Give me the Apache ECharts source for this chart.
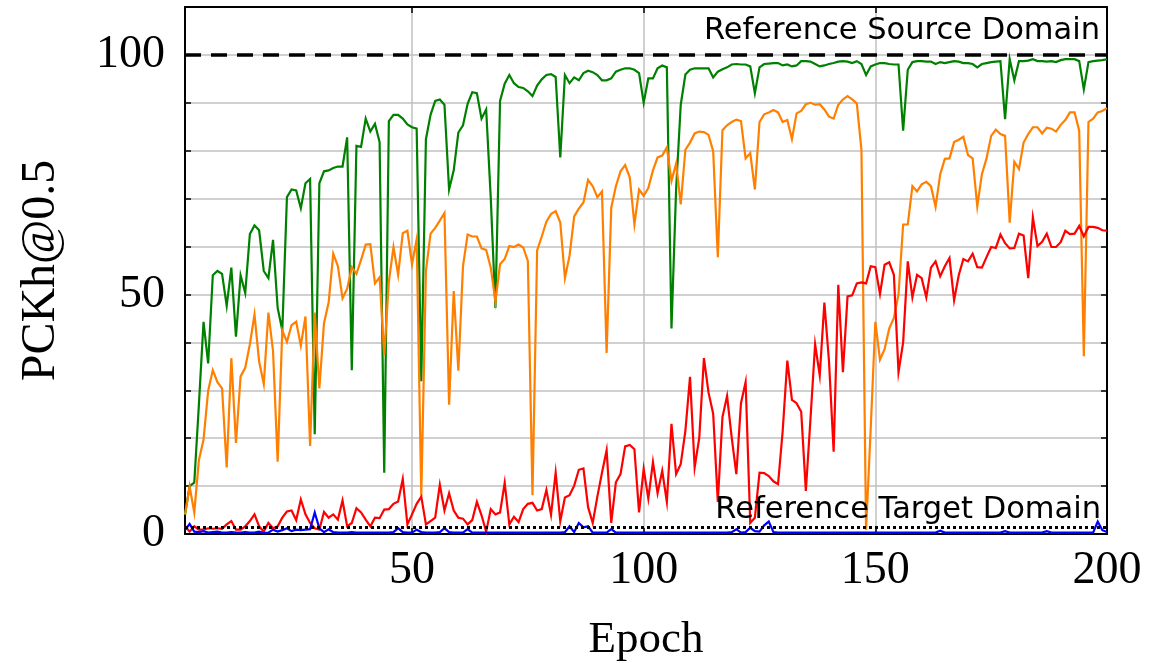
<!DOCTYPE html>
<html>
<head>
<meta charset="utf-8">
<script src="https://cdn.jsdelivr.net/npm/echarts@6/dist/echarts.min.js"></script>
<style>
  html, body { margin: 0; padding: 0; background: #fff; }
  #chart { width: 1170px; height: 663px; }
</style>
</head>
<body>
<div id="chart"></div>
<script>
// epochs 1..200 (x categories)
const epochs = Array.from({ length: 200 }, (_, i) => i + 1);

const green = [
  4, 10, 10.7, 27, 44.3, 35.6, 54, 54.9, 54.3, 47.6,
  55.6, 41.2, 54, 50.3, 62.6, 64.4, 63.4, 54.9, 53.4, 61.4,
  47.2, 42.5, 70.3, 71.9, 71.7, 68, 73.2, 74.1, 20.8, 73.2,
  75.7, 75.9, 76.4, 76.7, 76.7, 82.8, 34.2, 81, 80.8, 86.7,
  84, 85.6, 81.8, 12.8, 86.2, 87.5, 87.5, 86.7, 85.5, 84.9,
  84.6, 31.9, 82.4, 87.5, 90.4, 90.7, 89.6, 71.9, 75.9, 83.8,
  85.3, 89.8, 92.2, 92, 86.7, 88.6, 70, 47.2, 90.4, 94,
  95.8, 94.1, 93.3, 93.1, 92.4, 91.4, 93.6, 94.9, 95.8, 96,
  95.4, 78.6, 95.8, 94.1, 95.3, 94.7, 96.2, 96.7, 96.4, 95.8,
  94.7, 94.7, 95.1, 96.5, 96.9, 97.2, 97.2, 96.9, 96.2, 90,
  95.1, 95.1, 97.2, 97.8, 97.4, 42.9, 72, 89.6, 95.9, 96.9,
  97.2, 97.2, 97.2, 97.2, 95.3, 96.5, 97, 97.4, 98, 98.1,
  98, 98, 97.6, 92, 97.4, 98.1, 98.2, 98.3, 98.3, 97.8,
  98, 97.6, 97.8, 98.7, 98.7, 98.6, 98.1, 97.6, 97.8, 98.1,
  98.3, 98.6, 98.7, 98.6, 98.3, 98.7, 98.1, 95.8, 97.6, 98,
  98.3, 98.3, 98.1, 98, 98, 84.2, 96.9, 98.5, 98.7, 98.7,
  98.6, 98.6, 98.1, 98.5, 98.3, 98.5, 98.7, 98.6, 98.3, 98.3,
  98.1, 97.4, 98.1, 98.3, 98.5, 98.6, 98.7, 86.6, 99.1, 94.7,
  98.7, 98.7, 98.8, 99.1, 98.7, 98.7, 98.6, 98.7, 98.5, 98.9,
  99.1, 99.1, 99.1, 98.7, 92.8, 98.5, 98.7, 98.8, 98.9, 99.1
];

const orange = [
  4.1, 9.9, 4.5, 15.4, 19.7, 29.9, 34.2, 31.7, 30.4, 13.9,
  36.7, 19, 32.9, 34.7, 39.6, 45.8, 36, 31.3, 46.2, 38.2,
  15.1, 42.5, 40.1, 43.6, 44.3, 39.3, 45.4, 18.4, 46.2, 30.4,
  44, 48.3, 58.5, 55.9, 49.2, 51.2, 55.7, 54.3, 57.2, 60.4,
  60.5, 52.3, 53.6, 37.3, 52.7, 59.9, 54.1, 62.8, 63.3, 56.3,
  61.5, 8, 54.9, 62.7, 63.9, 65.4, 67, 27, 50.7, 34.1,
  55.9, 62.5, 62.1, 62.1, 59.6, 59.3, 55.6, 48.5, 56.3, 57.4,
  60.1, 59.9, 60.4, 59.8, 57, 8.1, 59.2, 62.1, 65.2, 66.8,
  67.4, 65, 53.4, 58.1, 66.3, 67.9, 69.2, 73.9, 72.6, 70.3,
  71.5, 37.8, 68.1, 72.6, 75.7, 77, 74.4, 64.6, 71.9, 70.6,
  72.2, 75.9, 78.6, 79, 80.7, 73.7, 77.3, 68.8, 80.2, 81.7,
  83.6, 84, 83.9, 83.3, 79.9, 57.8, 84.3, 85.3, 86, 86.5,
  86.2, 78.4, 79.5, 71.9, 86, 87.6, 88, 88.5, 88, 86,
  86.4, 82.4, 87.8, 88.3, 89.7, 90, 89.6, 89.7, 88.6, 87.1,
  86.7, 89.6, 90.7, 91.4, 90.7, 89.9, 80.2, 0.9, 22, 44.3,
  36.4, 38.6, 42.9, 45.1, 50, 64.6, 64.6, 72.6, 71.5, 73,
  73.5, 72.6, 68.3, 75.1, 78.3, 78.4, 81.8, 82.3, 82.9, 79.1,
  78.4, 68.4, 75.1, 78.4, 83.1, 84.4, 83.5, 83.1, 65, 77.7,
  76.2, 81.7, 83.5, 84.9, 84.9, 83.6, 84.8, 84.6, 84, 85.4,
  86.4, 88, 88, 84.2, 37.1, 86, 86.7, 88, 88.3, 88.9
];

const red = [
  1.6, 0.5, 1.6, 0.9, 0.9, 1.2, 1.1, 1.2, 1.1, 2,
  2.7, 0.9, 0.9, 1.6, 2.7, 4.1, 1.6, 0.5, 2.3, 1.2,
  1.6, 3.4, 4.7, 4.9, 2.9, 7.2, 4.1, 2.3, 1.2, 0.9,
  4.6, 3.4, 4.1, 3, 7, 1.6, 2.3, 5.4, 4.5, 3,
  1.6, 3.4, 3.3, 5.1, 5.2, 6.3, 6.8, 11.5, 2, 4.1,
  6.3, 7.8, 2, 2.7, 3.4, 10.3, 4.9, 8.5, 4.9, 3.4,
  3.2, 2, 2.9, 6.7, 3.9, 0.5, 5.2, 4.1, 4.5, 10.7,
  2, 3.6, 2.5, 5.2, 6.3, 6.5, 4.9, 5.2, 9.2, 4,
  12.8, 2.7, 7.6, 8.1, 10.1, 13.4, 13.7, 5.6, 2.3, 7.8,
  12.8, 17.5, 2.3, 10.8, 12.5, 18.3, 18.6, 17.7, 4.5, 13.6,
  7.4, 15, 8.5, 13.2, 6.7, 23, 12.5, 14.6, 21.5, 32.8,
  13.9, 20.1, 36.7, 29.5, 25.1, 6.7, 24.4, 28.8, 20.1, 12.5,
  27.3, 31.7, 2.3, 3.4, 12.8, 12.7, 12.1, 11, 10.4, 21.5,
  36.2, 28, 27.3, 25.5, 9, 24, 39.6, 33.1, 48.3, 36,
  17.2, 52, 33.8, 49.6, 49.8, 52.3, 52.5, 52.3, 55.9, 55.7,
  50.1, 56.2, 56.7, 54.1, 33.8, 40, 56.9, 49.4, 54.1, 53.4,
  49.4, 55.6, 56.9, 53.8, 55.9, 57.6, 48.8, 54, 57.4, 56.9,
  58.5, 55.7, 55.6, 57.8, 59.9, 59.7, 62.5, 60.7, 59.6, 59.7,
  62.7, 62.3, 53.4, 66.1, 60.1, 61, 62.7, 59.9, 59.9, 60.9,
  63.3, 62.6, 62.7, 64.3, 62.1, 64.1, 64.1, 63.9, 63.4, 63.3
];

const blue = [
  0.8, 2.1, 0.5, 0.4, 0.6, 0.3, 0.4, 0.5, 0.3, 0.3,
  0.4, 0.3, 0.3, 0.4, 0.3, 0.3, 0.5, 0.2, 0.3, 0.9,
  0.5, 0.8, 1.2, 0.6, 0.9, 0.8, 0.9, 1, 4.5, 1.2,
  0.4, 1, 0.4, 0.3, 0.3, 0.3, 0.4, 0.3, 0.3, 0.3,
  0.3, 0.3, 0.3, 0.3, 0.3, 0.4, 1.2, 0.4, 0.3, 0.3,
  0.9, 0.4, 0.3, 0.3, 0.3, 0.4, 1.2, 0.4, 0.3, 0.3,
  0.3, 1, 0.3, 0.3, 0.3, 0.3, 0.3, 0.3, 0.3, 0.3,
  0.3, 0.3, 0.3, 0.3, 0.3, 0.3, 0.3, 0.3, 0.3, 0.3,
  0.3, 0.3, 0.4, 1.6, 0.4, 2.3, 1.4, 1.6, 0.3, 0.3,
  0.3, 0.3, 1, 0.3, 0.3, 0.3, 0.3, 0.3, 0.3, 0.3,
  0.3, 0.3, 0.3, 0.3, 0.3, 0.3, 0.3, 0.3, 0.3, 0.3,
  0.3, 0.3, 0.3, 0.3, 0.3, 0.3, 0.3, 0.3, 0.4, 1,
  0.3, 0.4, 1.3, 0.6, 0.5, 1.8, 2.6, 0.4, 0.3, 0.3,
  0.3, 0.3, 0.3, 0.3, 0.3, 0.3, 0.3, 0.3, 0.3, 0.3,
  0.3, 0.3, 0.3, 0.3, 0.3, 0.3, 0.3, 0.3, 0.3, 0.3,
  0.3, 0.3, 0.3, 0.3, 0.3, 0.3, 0.3, 0.3, 0.3, 0.3,
  0.3, 0.3, 0.3, 0.7, 0.3, 0.3, 0.3, 0.3, 0.3, 0.3,
  0.3, 0.3, 0.3, 0.3, 0.3, 0.3, 0.3, 0.6, 0.3, 0.3,
  0.3, 0.3, 0.3, 0.3, 0.3, 0.3, 0.6, 0.3, 0.3, 0.3,
  0.3, 0.3, 0.3, 0.3, 0.3, 0.3, 0.3, 2.6, 0.8, 0.4
];

const sourceRef = 100;
const targetRef = 1.4;
const xTickEvery = 50;
const yLabelValues = [0, 50, 100];

const serif = 'Liberation Serif';
const isXTick = (index) => (index + 1) % xTickEvery === 0;

const chart = echarts.init(document.getElementById('chart'));

const lineSeries = (data, color) => ({
  type: 'line',
  data: data,
  xAxisIndex: 0,
  yAxisIndex: 0,
  showSymbol: false,
  symbol: 'none',
  lineStyle: { color: color, width: 2.2, join: 'miter' },
  itemStyle: { color: color },
  silent: true,
});

chart.setOption({
  animation: false,
  grid: { left: 185, right: 63, top: 7, bottom: 129, containLabel: false, outerBoundsMode: 'none' },
  xAxis: [
    {
      type: 'category',
      data: epochs,
      boundaryGap: false,
      position: 'bottom',
      name: 'Epoch',
      nameLocation: 'middle',
      nameGap: 84,
      nameTextStyle: { fontFamily: serif, fontSize: 45, color: '#000' },
      axisLine: { show: true, onZero: false, lineStyle: { color: '#000', width: 2 } },
      axisTick: { show: true, inside: true, length: 6, interval: (i) => isXTick(i), lineStyle: { color: '#000', width: 1.5 } },
      axisLabel: {
        interval: (i) => isXTick(i),
        margin: 14,
        fontFamily: serif,
        fontSize: 46,
        color: '#000',
      },
      splitLine: { show: true, interval: (i) => isXTick(i), lineStyle: { color: '#c0c0c0', width: 1.5 } },
    },
    {
      type: 'category',
      data: epochs,
      boundaryGap: false,
      position: 'top',
      axisLine: { show: true, onZero: false, lineStyle: { color: '#000', width: 2 } },
      axisTick: { show: true, inside: true, length: 6, interval: (i) => isXTick(i), lineStyle: { color: '#000', width: 1.5 } },
      axisLabel: { show: false },
      splitLine: { show: false },
    },
  ],
  yAxis: [
    {
      type: 'value',
      min: 0,
      max: 110,
      interval: 10,
      position: 'left',
      name: 'PCKh@0.5',
      nameLocation: 'middle',
      nameGap: 120,
      nameTextStyle: { fontFamily: serif, fontSize: 48, color: '#000' },
      axisLine: { show: true, lineStyle: { color: '#000', width: 2 } },
      axisTick: { show: true, inside: true, length: 6, lineStyle: { color: '#000', width: 1.5 } },
      axisLabel: {
        margin: 20,
        fontFamily: serif,
        fontSize: 46,
        color: '#000',
        formatter: (v) => (yLabelValues.includes(v) ? String(v) : ''),
      },
      splitLine: { show: true, lineStyle: { color: '#c0c0c0', width: 1.5 } },
    },
    {
      type: 'value',
      min: 0,
      max: 110,
      interval: 10,
      position: 'right',
      axisLine: { show: true, lineStyle: { color: '#000', width: 2 } },
      axisTick: { show: true, inside: true, length: 6, lineStyle: { color: '#000', width: 1.5 } },
      axisLabel: { show: false },
      splitLine: { show: false },
    },
  ],
  series: [
    lineSeries(green, '#008000'),
    lineSeries(orange, '#ff8000'),
    lineSeries(red, '#ff0000'),
    {
      ...lineSeries(blue, '#0000ff'),
      markLine: {
        silent: true,
        symbol: 'none',
        animation: false,
        data: [
          {
            yAxis: sourceRef,
            lineStyle: { color: '#000', width: 3.5, type: [16, 10] },
            label: {
              show: true,
              position: 'insideEndTop',
              formatter: 'Reference Source Domain',
              fontFamily: 'DejaVu Sans',
              fontSize: 30.5,
              color: '#000',
              distance: [7, 8],
            },
          },
          {
            yAxis: targetRef,
            lineStyle: { color: '#000', width: 3, type: [3, 3] },
            label: {
              show: true,
              position: 'insideEndTop',
              formatter: 'Reference Target Domain',
              fontFamily: 'DejaVu Sans',
              fontSize: 30.5,
              color: '#000',
              distance: [6, 2],
            },
          },
        ],
      },
    },
  ],
});
</script>
</body>
</html>
